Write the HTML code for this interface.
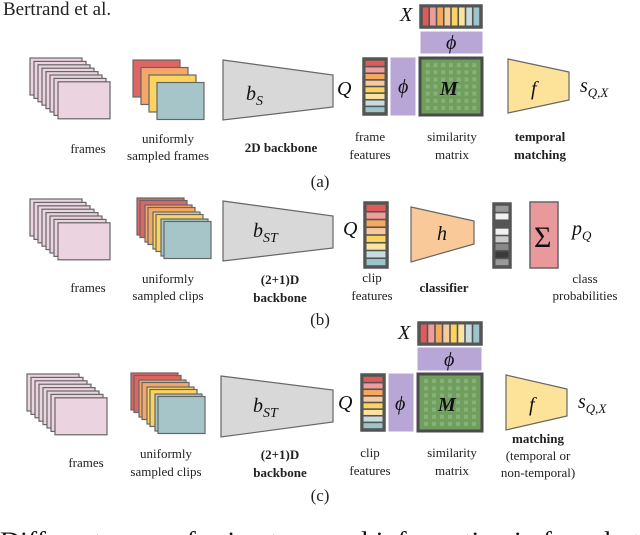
<!DOCTYPE html>
<html><head><meta charset="utf-8"><style>
html,body{margin:0;padding:0;background:#fff;width:640px;height:535px;overflow:hidden}
svg{display:block;font-family:"Liberation Serif",serif}
.l{font-size:13px;fill:#222;text-anchor:middle}
.b{font-weight:bold}
.m{font-style:italic;font-size:20px;fill:#111}
.p{font-size:17px;fill:#222;text-anchor:middle}
</style></head><body>
<svg id="s" width="640" height="535" viewBox="0 0 640 535" xmlns="http://www.w3.org/2000/svg">
<text x="3" y="15" font-size="19" fill="#222">Bertrand et al.</text>
<g id="g"></g>
<text class="m" x="246" y="100">b<tspan font-size="14" dy="5">S</tspan></text>
<text class="m" x="337" y="95" font-size="16">Q</text>
<text class="m" x="398" y="93" font-size="18">ϕ</text>
<text class="m" x="440" y="95" font-weight="bold">M</text>
<text class="m" x="400" y="21" font-size="15">X</text>
<text class="m" x="446" y="49" font-size="18">ϕ</text>
<text class="m" x="531" y="95">f</text>
<text class="m" x="580" y="92" font-size="17">s<tspan font-size="13" dy="5">Q,X</tspan></text>
<text class="l" x="88" y="153">frames</text>
<text class="l" x="168" y="143">uniformly</text><text class="l" x="168" y="160">sampled frames</text>
<text class="l b" x="281" y="152">2D backbone</text>
<text class="l" x="370" y="141">frame</text><text class="l" x="370" y="159">features</text>
<text class="l" x="452" y="141">similarity</text><text class="l" x="452" y="159">matrix</text>
<text class="l b" x="540" y="141">temporal</text><text class="l b" x="540" y="159">matching</text>
<text class="p" x="320" y="187">(a)</text>
<text class="m" x="253" y="237">b<tspan font-size="14" dy="5">ST</tspan></text>
<text class="m" x="343" y="235" font-size="16">Q</text>
<text class="m" x="437" y="240" font-size="17">h</text>
<text x="534" y="247" font-size="30" fill="#111">Σ</text>
<text class="m" x="572" y="235" font-size="17">p<tspan font-size="13" dy="5">Q</tspan></text>
<text class="l" x="88" y="292">frames</text>
<text class="l" x="168" y="283">uniformly</text><text class="l" x="168" y="300">sampled clips</text>
<text class="l b" x="280" y="284">(2+1)D</text><text class="l b" x="280" y="302">backbone</text>
<text class="l" x="372" y="282">clip</text><text class="l" x="372" y="300">features</text>
<text class="l b" x="444" y="292">classifier</text>
<text class="l" x="585" y="283">class</text><text class="l" x="585" y="300">probabilities</text>
<text class="p" x="320" y="325">(b)</text>
<text class="m" x="253" y="412">b<tspan font-size="14" dy="5">ST</tspan></text>
<text class="m" x="338" y="409" font-size="16">Q</text>
<text class="m" x="395" y="410" font-size="18">ϕ</text>
<text class="m" x="438" y="411" font-weight="bold">M</text>
<text class="m" x="398" y="339" font-size="15">X</text>
<text class="m" x="444" y="366" font-size="18">ϕ</text>
<text class="m" x="529" y="411">f</text>
<text class="m" x="578" y="408" font-size="17">s<tspan font-size="13" dy="5">Q,X</tspan></text>
<text class="l" x="86" y="467">frames</text>
<text class="l" x="166" y="458">uniformly</text><text class="l" x="166" y="476">sampled clips</text>
<text class="l b" x="280" y="459">(2+1)D</text><text class="l b" x="280" y="477">backbone</text>
<text class="l" x="370" y="457">clip</text><text class="l" x="370" y="475">features</text>
<text class="l" x="452" y="457">similarity</text><text class="l" x="452" y="475">matrix</text>
<text class="l b" x="538" y="443">matching</text>
<text class="l" x="538" y="460">(temporal or</text><text class="l" x="538" y="477">non-temporal)</text>
<text class="p" x="320" y="501">(c)</text>
<text x="0" y="549" font-size="25" fill="#111" textLength="640" lengthAdjust="spacingAndGlyphs">Different ways of using temporal information in few-shot</text>
</svg>
<script>
var g=document.getElementById('g'),h='';
function R(x,y,w,hh,f,s,sw){h+='<rect x="'+x+'" y="'+y+'" width="'+w+'" height="'+hh+'" fill="'+f+'" stroke="'+(s||'#666')+'" stroke-width="'+(sw||1.2)+'"/>';}
function P(pts,f){h+='<polygon points="'+pts+'" fill="'+f+'" stroke="#666" stroke-width="1.2"/>';}
function frames(x,y){for(var i=0;i<8;i++)R(x+i*4,y+i*3.4,52,37,'#ebd3df');}
function clips(x,y,n){var c=['#e06464','#f4a868','#fbd35e','#a5c5c9'];
 if(n==1){for(var i=0;i<4;i++)R(x+i*8,y+i*7.5,47,37,c[i]);}
 else{for(var i=0;i<4;i++)for(var j=0;j<2;j++)R(x+i*8+j*3,y+i*7+j*2.5,47,37,c[i]);}}
var fc=['#e05a5a','#ef9c9c','#f4a95e','#f8c99a','#fbd35e','#fbe3a0','#c6dde0','#9cc5cb'];
function col(x,y,w,hh,cols){R(x,y,w,hh,'#555','#555',1.5);var sh=(hh-4)/8;for(var i=0;i<8;i++)h+='<rect x="'+(x+2.5)+'" y="'+(y+2+i*sh+0.8)+'" width="'+(w-5)+'" height="'+(sh-1.6)+'" fill="'+cols[i]+'"/>';}
function row(x,y,w,hh){R(x,y,w,hh,'#555','#555',1.5);var sw=(w-4)/8;for(var i=0;i<8;i++)h+='<rect x="'+(x+2+i*sw+0.8)+'" y="'+(y+2.5)+'" width="'+(sw-1.6)+'" height="'+(hh-5)+'" fill="'+fc[i]+'"/>';}
function mat(x,y,w,hh){R(x,y,w,hh,'#6f9e5e','#4a4a4a',3);for(var i=1;i<8;i++)for(var j=1;j<8;j++)h+='<rect x="'+(x+i*w/8-2)+'" y="'+(y+j*hh/8-2)+'" width="4" height="4" fill="#86b276"/>';}
frames(30,58);clips(133,60,1);
P('223,60 333,75 333,107 223,120','#d8d8d8');
col(363,58,24,57,fc);R(391,58,24,57,'#b8a6d6','#b8a6d6',1);mat(420,58,62,57);
row(420,5,62,23);R(421,32,61,21,'#b8a6d6','#b8a6d6',1);
P('508,59 569,72 569,100 508,113','#fde39a');
frames(30,199);clips(137,198,2);
P('223,201 333,216 333,248 223,261','#d8d8d8');
col(364,202,24,66,fc);
P('411,207 474,221 474,244 411,262','#f9c99a');
col(493,203,18,65,['#999','#f2f2f2','#555','#f2f2f2','#ccc','#888','#3a3a3a','#999']);
R(530,202,28,66,'#e9999c','#666',1.5);
frames(27,374);clips(131,373,2);
P('221,376 333,390 333,422 221,437','#d8d8d8');
col(361,374,24,57,fc);R(389,374,24,57,'#b8a6d6','#b8a6d6',1);mat(418,374,64,57);
row(418,322,64,23);R(418,348,63,22,'#b8a6d6','#b8a6d6',1);
P('506,375 567,389 567,416 506,430','#fde39a');
g.innerHTML=h;
</script>
</body></html>
